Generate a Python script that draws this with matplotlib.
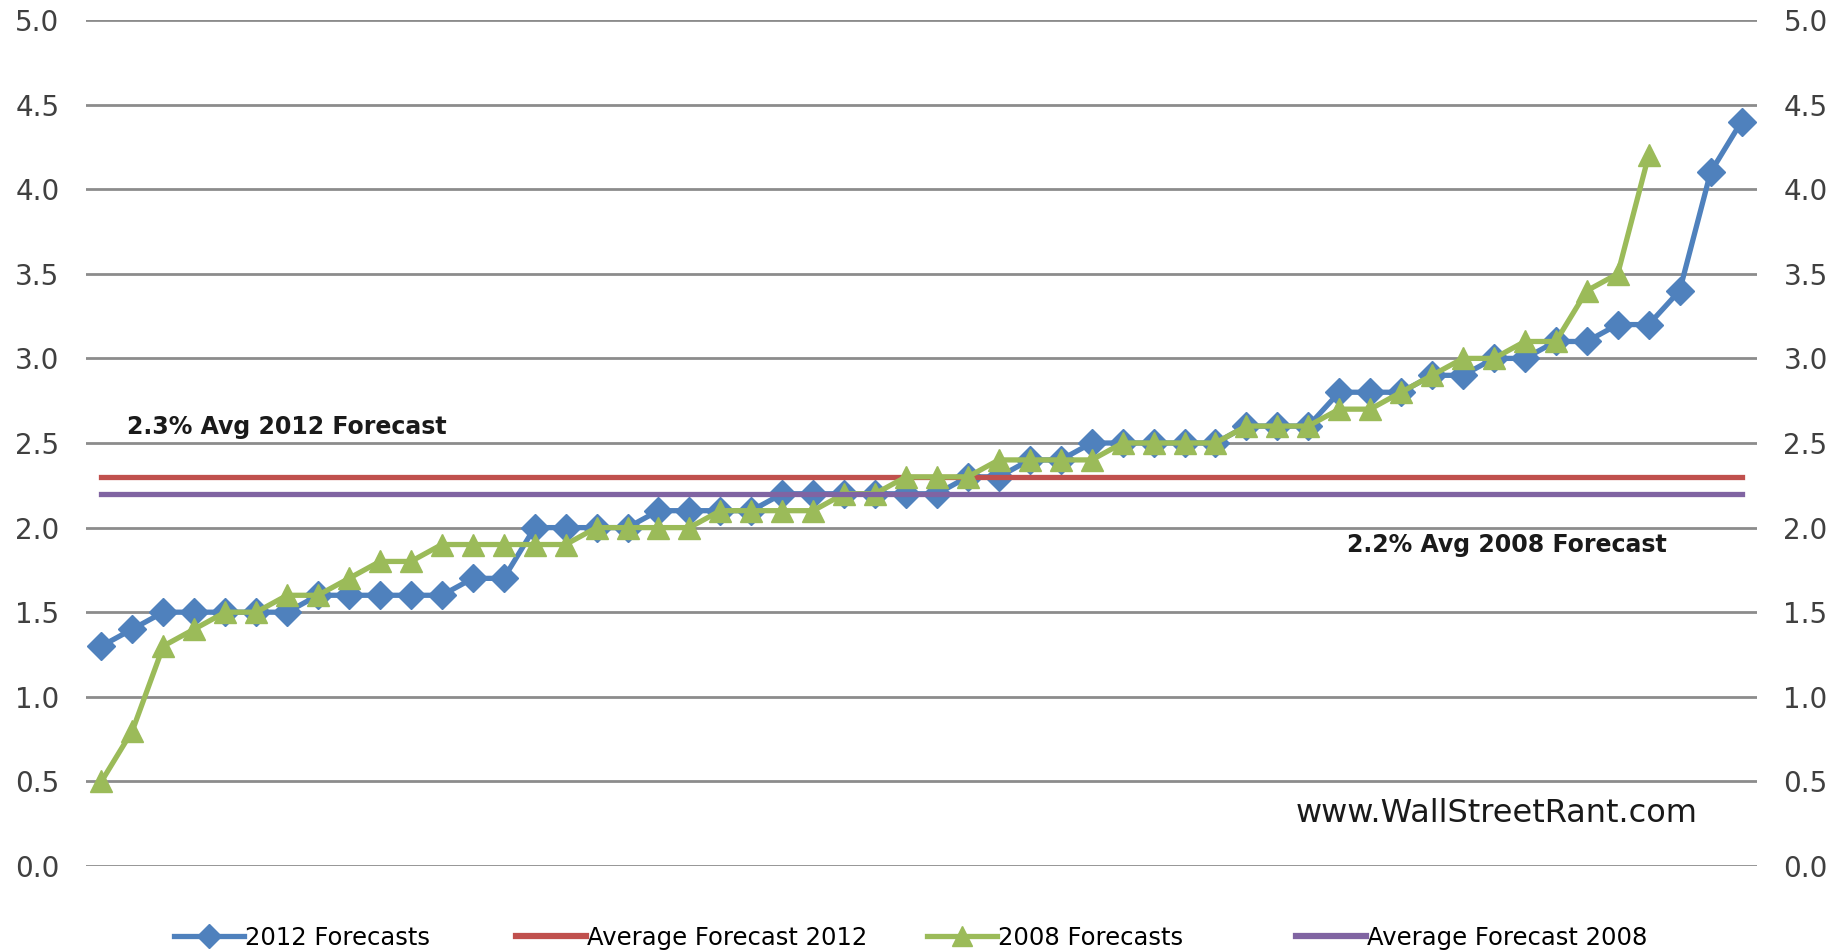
import matplotlib
matplotlib.use('Agg')
import matplotlib.pyplot as plt
from matplotlib.lines import Line2D
from matplotlib import font_manager

# 2012년 / 2008년 성장률 예측치 (작은 값부터 정렬된 상태)
forecast_2012 = [1.3, 1.4, 1.5, 1.5, 1.5, 1.5, 1.5, 1.6, 1.6, 1.6,
                 1.6, 1.6, 1.7, 1.7, 2.0, 2.0, 2.0, 2.0, 2.1, 2.1,
                 2.1, 2.1, 2.2, 2.2, 2.2, 2.2, 2.2, 2.2, 2.3, 2.3,
                 2.4, 2.4, 2.5, 2.5, 2.5, 2.5, 2.5, 2.6, 2.6, 2.6,
                 2.8, 2.8, 2.8, 2.9, 2.9, 3.0, 3.0, 3.1, 3.1, 3.2,
                 3.2, 3.4, 4.1, 4.4]
forecast_2008 = [0.5, 0.8, 1.3, 1.4, 1.5, 1.5, 1.6, 1.6, 1.7, 1.8,
                 1.8, 1.9, 1.9, 1.9, 1.9, 1.9, 2.0, 2.0, 2.0, 2.0,
                 2.1, 2.1, 2.1, 2.1, 2.2, 2.2, 2.3, 2.3, 2.3, 2.4,
                 2.4, 2.4, 2.4, 2.5, 2.5, 2.5, 2.5, 2.6, 2.6, 2.6,
                 2.7, 2.7, 2.8, 2.9, 3.0, 3.0, 3.1, 3.1, 3.4, 3.5,
                 4.2]
avg_2012 = 2.3
avg_2008 = 2.2

y_ticks = [0.0, 0.5, 1.0, 1.5, 2.0, 2.5, 3.0, 3.5, 4.0, 4.5, 5.0]
labels = ['2012 Forecasts', 'Average Forecast 2012', '2008 Forecasts', 'Average Forecast 2008']
note_2012 = '2.3% Avg 2012 Forecast'
note_2008 = '2.2% Avg 2008 Forecast'
watermark = 'www.WallStreetRant.com'

# 색상 (엑셀 기본 팔레트)
blue = '#4F81BD'
red = '#C0504D'
green = '#9BBB59'
purple = '#8064A2'

# 범례용 좁은 글꼴이 있으면 사용
names = {f.name for f in font_manager.fontManager.ttflist}
legend_font = 'Liberation Sans Narrow' if 'Liberation Sans Narrow' in names else 'DejaVu Sans'
legend_size = 20 if legend_font != 'DejaVu Sans' else 17.5

W, H = 1839, 950
fig = plt.figure(figsize=(W / 100, H / 100), dpi=100)
ax = fig.add_axes([86 / W, 1 - 866 / H, (1757 - 86) / W, (866 - 20) / H])

x12 = list(range(len(forecast_2012)))
x08 = list(range(len(forecast_2008)))

ax.plot(x12, forecast_2012, color=blue, lw=3.8, marker='D', ms=14.5, mec=blue, zorder=3)
ax.plot(x12, [avg_2012] * len(x12), color=red, lw=3.8, zorder=4)
ax.plot(x08, forecast_2008, color=green, lw=3.8, marker='^', ms=16.5, mec=green, zorder=5)
ax.plot(x12, [avg_2008] * len(x12), color=purple, lw=3.8, zorder=6)

ax.set_xlim(-0.5, len(forecast_2012) - 0.5)
ax.set_ylim(0, 5)
ax.set_xticks([])
ax.set_yticks(y_ticks)
ax.set_yticklabels([f'{v:.1f}' for v in y_ticks])
ax.tick_params(axis='y', length=0, labelsize=20, labelcolor='#404040', pad=19,
               labelleft=True, labelright=True)
ax.yaxis.grid(True, color='#8c8c8c', lw=2)
ax.set_axisbelow(True)
for s in ax.spines.values():
    s.set_visible(False)

# 주석 텍스트
ax.text(0.82, 2.595, note_2012, fontsize=17, fontweight='bold', color='#1a1a1a',
        ha='left', va='center')
ax.text(40.25, 1.90, note_2008, fontsize=17, fontweight='bold', color='#1a1a1a',
        ha='left', va='center')
ax.text(38.6, 0.31, watermark, fontsize=23, color='#1a1a1a', ha='left', va='center')

# 범례 (항목별 위치 지정)
handles = [
    Line2D([], [], color=blue, lw=3.8, marker='D', ms=12, mec=blue),
    Line2D([], [], color=red, lw=4.5),
    Line2D([], [], color=green, lw=3.8, marker='^', ms=14, mec=green),
    Line2D([], [], color=purple, lw=4.5),
]
legend_x = [174, 516, 927, 1296]
for h, lab, lx in zip(handles, labels, legend_x):
    fig.legend(handles=[h], labels=[lab], loc='center left',
               bbox_to_anchor=(lx / W, 1 - 938 / H), frameon=False,
               prop={'family': legend_font, 'size': legend_size},
               handlelength=70 / (legend_size / 0.72), handletextpad=0.05,
               borderpad=0, borderaxespad=0)

fig.savefig('out.png', dpi=100, facecolor='white')
